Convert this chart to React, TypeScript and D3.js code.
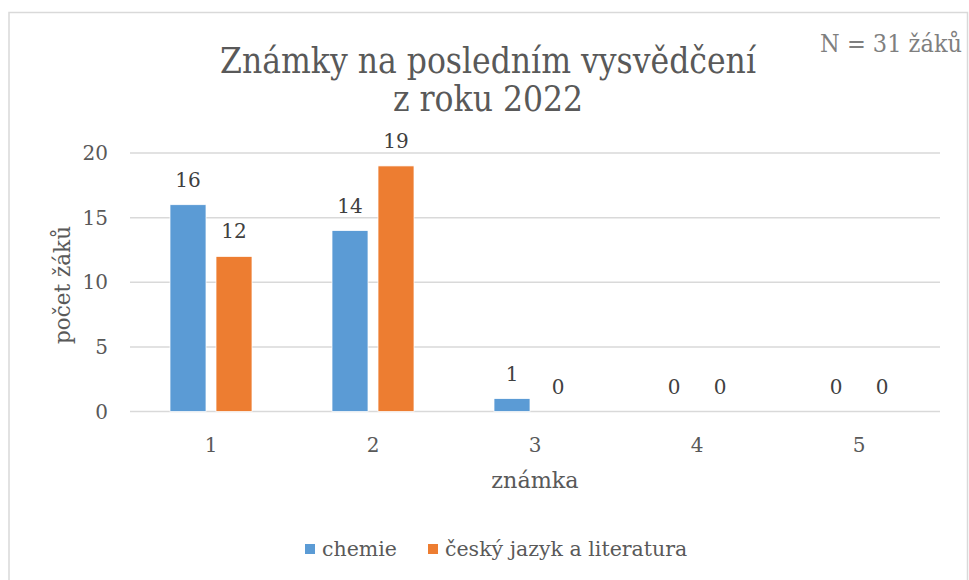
import React from "react";
import * as d3 from "d3";

const categories = ["1", "2", "3", "4", "5"];
const seriesNames = ["chemie", "český jazyk a literatura"];
const chemie = [16, 14, 1, 0, 0];
const cestina = [12, 19, 0, 0, 0];
const yTicks = [0, 5, 10, 15, 20];
const colors = ["#5B9BD5", "#ED7D31"];

const W = 969;
const H = 580;
const m = { left: 130, right: 940, top: 153, bottom: 411.5 };

export default function App() {
  const x = d3.scaleBand<string>().domain(categories).range([m.left, m.right]);
  const y = d3.scaleLinear().domain([0, 20]).range([m.bottom, m.top]);
  const barW = 36;
  const gap = 10;
  const series = [chemie, cestina];
  const serif = "'DejaVu Serif', serif";
  const cond = "'DejaVu Serif Condensed', 'DejaVu Serif', serif";

  return (
    <svg width={W} height={H} style={{ position: "absolute", left: 0, top: 0 }}>
      <rect x={0} y={0} width={W} height={H} fill="#fff" />
      <rect x={9} y={12.5} width={958.5} height={H + 20} fill="none" stroke="#D9D9D9" strokeWidth={1.5} />
      <text x={488} y={73} textAnchor="middle" fontFamily={cond} fontSize={35} fill="#595959">
        Známky na posledním vysvědčení
      </text>
      <text x={488} y={111} textAnchor="middle" fontFamily={cond} fontSize={35} fill="#595959">
        z roku 2022
      </text>
      <text x={962} y={52} textAnchor="end" fontFamily={cond} fontSize={25} fill="#7F7F7F">
        N = 31 žáků
      </text>
      {yTicks.map((t) => (
        <g key={t}>
          <line x1={m.left} x2={m.right} y1={y(t)} y2={y(t)} stroke="#D9D9D9" strokeWidth={1.5} />
          <text x={108} y={y(t) + 7} textAnchor="end" fontFamily={serif} fontSize={20} fill="#595959">
            {t}
          </text>
        </g>
      ))}
      {categories.map((c, i) => {
        const cx = x(c)! + x.bandwidth() / 2;
        return (
          <g key={c}>
            <text x={cx} y={452} textAnchor="middle" fontFamily={serif} fontSize={20} fill="#595959">
              {c}
            </text>
            {series.map((s, j) => {
              const bx = j === 0 ? cx - gap / 2 - barW : cx + gap / 2;
              const v = s[i];
              return (
                <g key={j}>
                  {v > 0 && (
                    <rect x={bx} y={y(v)} width={barW} height={y(0) - y(v)} fill={colors[j]} stroke="#fff" strokeWidth={0.75} />
                  )}
                  <text x={bx + barW / 2} y={y(v) - 18} textAnchor="middle" fontFamily={serif} fontSize={20} fill="#404040">
                    {v}
                  </text>
                </g>
              );
            })}
          </g>
        );
      })}
      <text x={535} y={488} textAnchor="middle" fontFamily={serif} fontSize={22.3} fill="#595959">
        známka
      </text>
      <text transform={`translate(70,285) rotate(-90)`} textAnchor="middle" fontFamily={serif} fontSize={21.5} fill="#595959">
        počet žáků
      </text>
      <rect x={305} y={544} width={10} height={10} fill={colors[0]} />
      <text x={322} y={556} fontFamily={serif} fontSize={20.5} fill="#595959">
        {seriesNames[0]}
      </text>
      <rect x={428} y={544} width={10} height={10} fill={colors[1]} />
      <text x={445} y={556} fontFamily={serif} fontSize={20.5} fill="#595959">
        {seriesNames[1]}
      </text>
    </svg>
  );
}
